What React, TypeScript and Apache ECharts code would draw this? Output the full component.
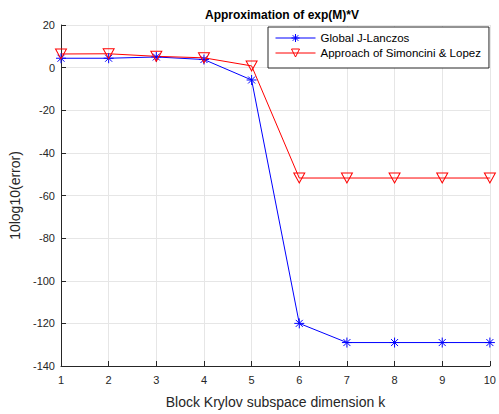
import React, { useEffect, useRef } from "react";
import * as echarts from "echarts";

const kValues = [1, 2, 3, 4, 5, 6, 7, 8, 9, 10];
const globalJLanczos = [4.4, 4.4, 5.0, 3.8, -5.8, -120, -129, -129, -129, -129];
const simonciniLopez = [6.4, 6.5, 5.3, 4.6, 0.8, -51.8, -51.8, -51.8, -51.8, -51.8];
const seriesNames = ["Global J-Lanczos", "Approach of Simoncini & Lopez"];

const asterisk = "path://M5 0L5 10M0 5L10 5M1.5 1.5L8.5 8.5M8.5 1.5L1.5 8.5";
const triDown = "path://M0 0L10 0L5 9Z";

export default function App() {
  const ref = useRef<HTMLDivElement>(null);
  useEffect(() => {
    if (!ref.current) return;
    const chart = echarts.init(ref.current, null, { renderer: "svg" });
    const font = "Liberation Sans, Arial, sans-serif";
    chart.setOption({
      animation: false,
      backgroundColor: "#ffffff",
      textStyle: { fontFamily: font },
      title: {
        text: "Approximation of exp(M)*V",
        left: 277,
        textAlign: "center",
        top: 4,
        textStyle: { fontSize: 12, fontWeight: "bold", color: "#000", fontFamily: font },
      },
      legend: {
        orient: "vertical",
        left: 268,
        top: 27,
        padding: [5, 8, 9, 7],
        itemGap: 3,
        itemWidth: 40,
        itemHeight: 10,
        backgroundColor: "#fff",
        borderColor: "#262626",
        borderWidth: 1,
        borderRadius: 0,
        lineStyle: { width: 1 },
        itemStyle: { borderWidth: 1 },
        textStyle: { fontSize: 11.5, lineHeight: 12, color: "#000", fontFamily: font },
        data: seriesNames,
      },
      grid: { left: 61, right: 7, top: 25, bottom: 48 },
      xAxis: {
        type: "value",
        min: 1,
        max: 10,
        interval: 1,
        name: "Block Krylov subspace dimension k",
        nameLocation: "middle",
        nameGap: 29,
        nameTextStyle: { fontSize: 14, color: "#262626", fontFamily: font },
        axisLine: { onZero: false, lineStyle: { color: "#262626" } },
        axisTick: { inside: true, length: 5, lineStyle: { color: "#262626" } },
        axisLabel: { fontSize: 11, color: "#262626", margin: 8 },
        splitLine: { show: true, lineStyle: { color: "#e6e6e6" } },
      },
      yAxis: {
        type: "value",
        min: -140,
        max: 20,
        interval: 20,
        name: "10log10(error)",
        nameLocation: "middle",
        nameGap: 36,
        nameTextStyle: { fontSize: 14, color: "#262626", fontFamily: font },
        axisLine: { show: true, onZero: false, lineStyle: { color: "#262626" } },
        axisTick: { show: true, inside: true, length: 5, lineStyle: { color: "#262626" } },
        axisLabel: { fontSize: 11, color: "#262626", margin: 6 },
        splitLine: { show: true, lineStyle: { color: "#e6e6e6" } },
      },
      series: [
        {
          name: seriesNames[0],
          type: "line",
          data: kValues.map((k, i) => [k, globalJLanczos[i]]),
          symbol: asterisk,
          symbolSize: 10,
          lineStyle: { color: "#0000ff", width: 1 },
          itemStyle: { color: "rgba(0,0,0,0)", borderColor: "#0000ff", borderWidth: 1 },
        },
        {
          name: seriesNames[1],
          type: "line",
          data: kValues.map((k, i) => [k, simonciniLopez[i]]),
          symbol: triDown,
          symbolSize: [11, 10],
          lineStyle: { color: "#ff0000", width: 1 },
          itemStyle: { color: "rgba(0,0,0,0)", borderColor: "#ff0000", borderWidth: 1 },
        },
      ],
    });
    return () => chart.dispose();
  }, []);
  return <div ref={ref} style={{ width: 499, height: 414, position: "absolute", left: 0, top: 0 }} />;
}
